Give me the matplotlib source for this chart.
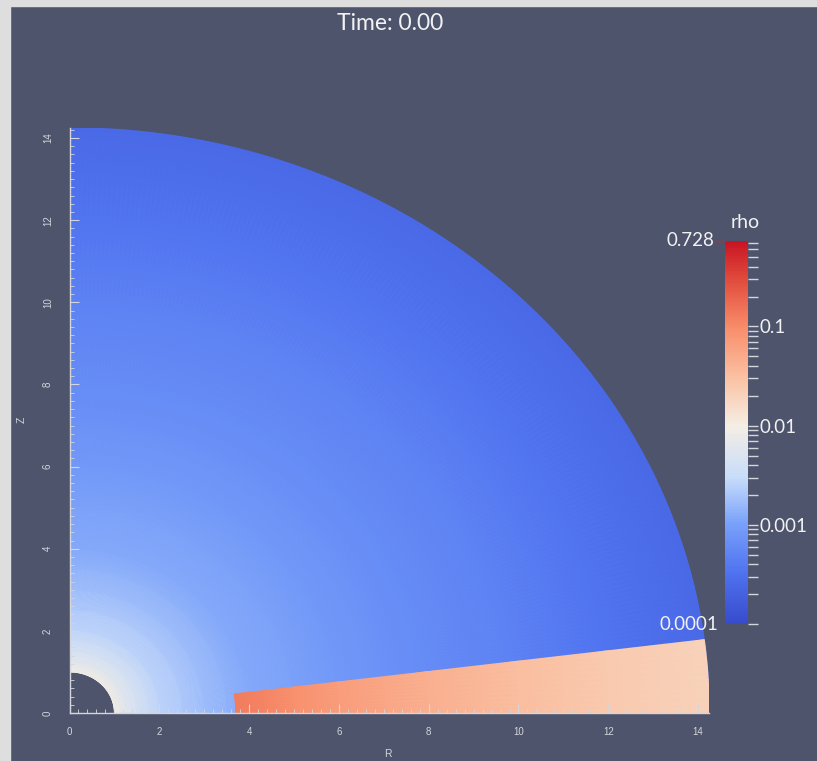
import numpy as np
import matplotlib
matplotlib.use("Agg")
import matplotlib.pyplot as plt
from matplotlib.colors import LogNorm, LinearSegmentedColormap
from matplotlib.patches import Rectangle
from matplotlib.ticker import MultipleLocator, LogLocator

# ── Data ──────────────────────────────────────────────────────────────────────
# envelope density vs spherical radius
env_r   = [1.0, 1.25, 1.5, 2.0, 3.0, 4.0, 6.0, 8.0, 10.0, 12.0, 14.25]
env_rho = [0.009, 0.006, 0.0045, 0.0027, 0.0017, 0.0012, 0.00085, 0.00062,
           0.00048, 0.00034, 0.00025]

# disk density vs radius
disk_r   = [3.7, 5.0, 6.0, 8.0, 10.0, 12.0, 14.25]
disk_rho = [0.13, 0.09, 0.068, 0.045, 0.032, 0.025, 0.02]

rho_min, rho_max = 1e-4, 0.728
cbar_ticks  = [1e-4, 1e-3, 1e-2, 1e-1]
cbar_labels = ["", "0.001", "0.01", "0.1"]
time_label = "Time: 0.00"

# ── Style ─────────────────────────────────────────────────────────────────────
BG = "#4e546c"
BORDER = "#dedede"
FG = "#f2f2f2"
TICK = "#d4d6dc"
W, H = 817, 761
DISK_ANGLE = 7.2   # degrees above midplane

# cool-to-warm map, colours sampled from the reference colour bar
cmap = LinearSegmentedColormap.from_list("cool2warm", [
    (0.000, "#374bcd"),
    (0.135, "#5073f0"),
    (0.259, "#78a0fa"),
    (0.382, "#c8dcfa"),
    (0.518, "#f5eee4"),
    (0.639, "#fac3a5"),
    (0.777, "#f88c69"),
    (0.900, "#e14b3c"),
    (1.000, "#c81423"),
], N=256)

plt.rcParams["font.family"] = ["Lato", "DejaVu Sans"]

fig = plt.figure(figsize=(W / 100, H / 100), dpi=100, facecolor=BG)
fig.patches.append(Rectangle((0, 0), 10 / W, 1, transform=fig.transFigure,
                             color=BORDER, zorder=-5))
fig.patches.append(Rectangle((0, 1 - 6 / H), 1, 6 / H, transform=fig.transFigure,
                             color=BORDER, zorder=-5))

# axes: x=0 at px 69.5, 44.9 px/unit ; z=0 at px 713, 41.07 px/unit
x0, y0 = 69.5, 713
sx, sy = 44.9, 41.07
rmax = 14.25
ax = fig.add_axes([x0 / W, (H - y0) / H, rmax * sx / W, rmax * sy / H])
ax.set_facecolor("none")
ax.set_xlim(0, rmax)
ax.set_ylim(0, rmax)

norm = LogNorm(vmin=rho_min, vmax=rho_max)

# envelope
th = np.radians(np.linspace(0, 90, 181))
R, T = np.meshgrid(env_r, th)
C = np.tile(env_rho, (len(th), 1))
mesh = ax.pcolormesh(R * np.cos(T), R * np.sin(T), C, shading="gouraud",
                     cmap=cmap, norm=norm, rasterized=True)

# disk
thd = np.radians(np.linspace(0, DISK_ANGLE, 12))
Rd, Td = np.meshgrid(disk_r, thd)
Cd = np.tile(disk_rho, (len(thd), 1))
ax.pcolormesh(Rd * np.cos(Td), Rd * np.sin(Td), Cd, shading="gouraud",
              cmap=cmap, norm=norm, rasterized=True)

for side in ["top", "right"]:
    ax.spines[side].set_visible(False)
for side in ["left", "bottom"]:
    ax.spines[side].set_color(TICK)
    ax.spines[side].set_linewidth(1.0)
    ax.spines[side].set_zorder(5)

ax.xaxis.set_major_locator(MultipleLocator(2))
ax.xaxis.set_minor_locator(MultipleLocator(0.2))
ax.yaxis.set_major_locator(MultipleLocator(2))
ax.yaxis.set_minor_locator(MultipleLocator(0.2))
ax.tick_params(which="both", direction="in", colors=TICK,
               labelcolor=TICK, labelsize=7)
ax.tick_params(which="major", length=6.5, width=0.8)
ax.tick_params(which="minor", length=3.2, width=0.6)
ax.tick_params(axis="x", pad=10)
ax.tick_params(axis="y", pad=12, labelrotation=90)
for lbl in ax.get_xticklabels() + ax.get_yticklabels():
    lbl.set_family(["Liberation Sans", "DejaVu Sans"])
for lbl in ax.get_yticklabels():
    lbl.set_verticalalignment("center")

fig.text(388 / W, 1 - 754 / H, "R", ha="center", va="center",
         color=TICK, fontsize=7.5, family=["Liberation Sans"])
fig.text(22 / W, 1 - 420 / H, "Z", ha="center", va="center", rotation=90,
         color=TICK, fontsize=7.5, family=["Liberation Sans"])

fig.text(390 / W, 1 - 23 / H, time_label, ha="center", va="center",
         color=FG, fontsize=16.5)

# ── Colorbar ──────────────────────────────────────────────────────────────────
cax = fig.add_axes([725 / W, (H - 624) / H, 23 / W, (624 - 241) / H])
cb = fig.colorbar(mesh, cax=cax)
cb.outline.set_visible(False)
cb.set_ticks(cbar_ticks)
cb.set_ticklabels(cbar_labels)
cax.yaxis.set_minor_locator(LogLocator(subs=np.arange(2, 10)))
cax.tick_params(which="both", direction="out", colors=TICK, labelcolor=FG,
                length=7, width=1.0, labelsize=13.5, pad=1)
cax.text(-0.45, 1.0, "0.728", transform=cax.transAxes, ha="right", va="center",
         color=FG, fontsize=13.5)
cax.plot([-0.42, -0.02], [1.0, 1.0], transform=cax.transAxes, clip_on=False,
         color="#c0282c", lw=1)
cax.text(-0.3, 0.0, "0.0001", transform=cax.transAxes, ha="right", va="center",
         color=FG, fontsize=13.5)
fig.text(745 / W, 1 - 231 / H, "rho", ha="center", va="bottom",
         color=FG, fontsize=14)

fig.savefig("out.png", dpi=100, facecolor=BG)
